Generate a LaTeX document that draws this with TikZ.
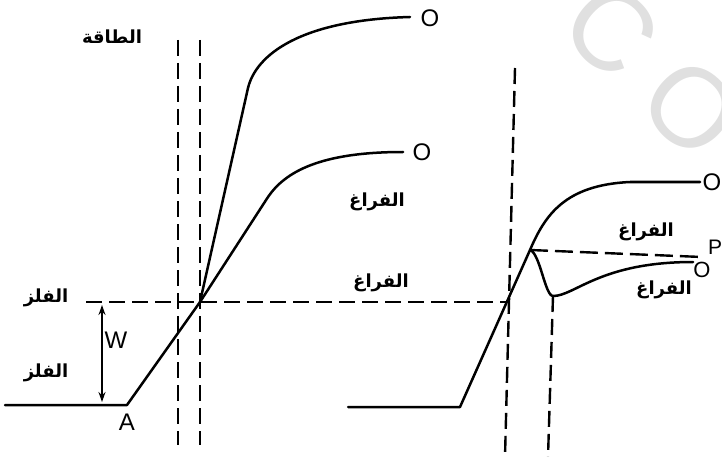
\documentclass[tikz,border=0pt]{standalone}
\usepackage{fontspec}
\setmainfont{Liberation Sans}
\newfontfamily\arabicfont[Script=Arabic]{DejaVu Sans}
\TeXXeTstate=1
\usetikzlibrary{arrows.meta}
\tikzset{
  curve/.style={line width=2.5pt, line join=round, line cap=round},
  dline/.style={line width=2.4pt, dash pattern=on 16pt off 7pt},
  arlabel/.style={font=\arabicfont\bfseries\fontsize{18}{20}\selectfont, inner sep=0pt},
  latlabel/.style={font=\fontsize{24}{26}\selectfont, inner sep=0pt},
  wmark/.style={font=\fontsize{112}{112}\selectfont, text=black!12, inner sep=0pt, rotate=-43}
}
\begin{document}
\begin{tikzpicture}[x=1pt,y=-1pt]
\useasboundingbox (0,0) rectangle (722,457);
% watermark
\node[wmark] (wmC) at (611,30) {C};
\node[wmark] (wmO) at (692,108) {O};
% coordinates
\coordinate (L1t) at (178,40); \coordinate (L1b) at (178,445);
\coordinate (L2t) at (200,40); \coordinate (L2b) at (200,445);
\coordinate (Hl) at (86,302); \coordinate (Hr) at (509,302);
\coordinate (G1) at (5,405); \coordinate (A) at (127,405);
\coordinate (X) at (200,302);
\coordinate (U1) at (248,88); \coordinate (U2) at (410,17);
\coordinate (V1) at (268,197); \coordinate (V2) at (403,152);
\coordinate (Rt) at (515,68); \coordinate (Rb) at (505,457);
\coordinate (G2) at (348,407); \coordinate (B) at (460,407);
\coordinate (K) at (530,250);
\coordinate (R1) at (630,182); \coordinate (R2) at (700,182);
\coordinate (Pe) at (702,257);
\coordinate (M) at (553,296); \coordinate (Mb) at (548,457);
\coordinate (D2) at (693,262);
\coordinate (Wt) at (102,305); \coordinate (Wb) at (102,402);
% dashed lines
\draw[dline] (L1t) -- (L1b);
\draw[dline] (L2t) -- (L2b);
\draw[dline] (Hl) -- (Hr);
\draw[dline] (Rt) -- (Rb);
\draw[dline] (M) -- (Mb);
\draw[line width=2.4pt, dash pattern=on 18pt off 7pt] (K) -- (Pe);
% left curves
\draw[curve] (G1) -- (A) -- (X) -- (V1) .. controls (285,172) and (320,152) .. (V2);
\draw[curve] (X) -- (U1) .. controls (256,55) and (300,20) .. (U2);
% right curves
\draw[curve] (G2) -- (B) -- (K) .. controls (545,215) and (565,185) .. (R1) -- (R2);
\draw[curve] (K) .. controls (540,253) and (545,296) .. (M) .. controls (575,296) and (600,262) .. (D2);
% arrow
\draw[line width=1.8pt, {Stealth[length=10pt,width=7pt]}-{Stealth[length=10pt,width=7pt]}] (Wt) -- (Wb);
% labels
\node[arlabel] (taqa) at (112,37) {\beginR الطاقة\endR};
\node[arlabel] (falz1) at (46,298) {\beginR الفلز\endR};
\node[arlabel] (falz2) at (46,373) {\beginR الفلز\endR};
\node[latlabel] (Wl) at (116,340) {W};
\node[latlabel] (Al) at (127,422) {A};
\node[latlabel] (O1) at (430,18) {O};
\node[latlabel] (O2) at (422,152) {O};
\node[arlabel] (f1) at (377,202) {\beginR الفراغ\endR};
\node[arlabel] (f2) at (381,283) {\beginR الفراغ\endR};
\node[latlabel] (O3) at (712,182) {O};
\node[latlabel, font=\fontsize{21}{22}\selectfont] (Pl) at (715,247) {P};
\node[latlabel, font=\fontsize{22}{24}\selectfont] (O4) at (702,270) {O};
\node[arlabel] (f3) at (646,232) {\beginR الفراغ\endR};
\node[arlabel] (f4) at (664,290) {\beginR الفراغ\endR};
\end{tikzpicture}
\end{document}
